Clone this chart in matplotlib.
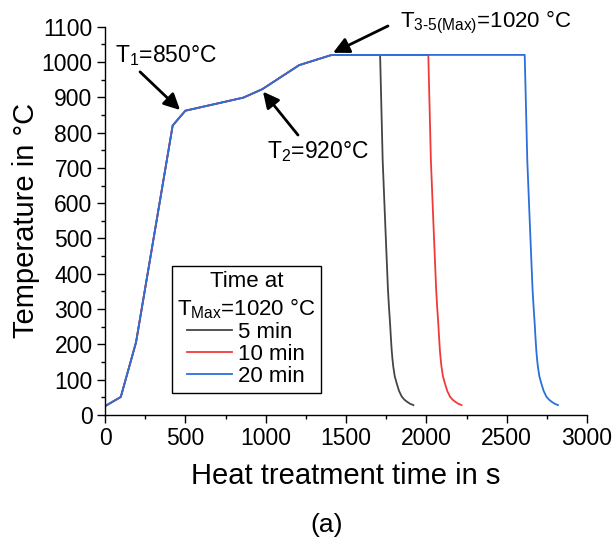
import matplotlib.pyplot as plt
from matplotlib.lines import Line2D
from matplotlib.ticker import MultipleLocator

plt.rcParams['font.family'] = ['Liberation Sans', 'DejaVu Sans']
plt.rcParams['mathtext.fontset'] = 'custom'
plt.rcParams['mathtext.rm'] = 'Liberation Sans'
plt.rcParams['mathtext.it'] = 'Liberation Sans'

# shared heating ramp (s, degC)
heat_t = [0, 98, 193, 421, 500, 861, 979, 1208, 1411]
heat_T = [25, 51, 206, 820, 862, 899, 923, 991, 1020]

# cooling after the hold, read per curve
cool_5_t = [1712, 1728, 1745, 1761, 1768, 1774, 1779, 1784, 1789, 1794, 1803, 1815, 1830, 1847, 1862, 1878, 1898, 1919]
cool_5_T = [1020, 722, 530, 354, 300, 260, 220, 184, 158, 137, 110, 90, 68, 52, 44, 38, 32, 28]
cool_10_t = [2012, 2028, 2045, 2061, 2068, 2074, 2079, 2084, 2089, 2094, 2103, 2115, 2130, 2147, 2162, 2178, 2198, 2219]
cool_10_T = [1020, 722, 530, 354, 300, 260, 220, 184, 158, 137, 110, 90, 68, 52, 44, 38, 32, 28]
cool_20_t = [2612, 2628, 2645, 2661, 2668, 2674, 2679, 2684, 2689, 2694, 2703, 2715, 2730, 2747, 2762, 2778, 2798, 2819]
cool_20_T = [1020, 722, 530, 354, 300, 260, 220, 184, 158, 137, 110, 90, 68, 52, 44, 38, 32, 28]

labels = ['5 min', '10 min', '20 min']
colors = ['#454545', '#f03a3a', '#2a6fdb']

fig = plt.figure(figsize=(6.16, 5.4), dpi=100)
ax = fig.add_axes([0.1705, 0.2315, 0.7825, 0.7191])

curves = [(cool_5_t, cool_5_T), (cool_10_t, cool_10_T), (cool_20_t, cool_20_T)]
for (ct, cT), c in zip(curves, colors):
    ax.plot(heat_t + ct, heat_T + cT, color=c, lw=1.3)

ax.set_xlim(0, 3000)
ax.set_ylim(0, 1100)
ax.xaxis.set_major_locator(MultipleLocator(500))
ax.xaxis.set_minor_locator(MultipleLocator(250))
ax.yaxis.set_major_locator(MultipleLocator(100))
ax.yaxis.set_minor_locator(MultipleLocator(50))
ax.tick_params(which='major', direction='out', length=6, width=1, labelsize=16.5, pad=3)
ax.tick_params(which='minor', direction='out', length=3, width=1)
for s in ['top', 'right']:
    ax.spines[s].set_visible(False)
for s in ['left', 'bottom']:
    ax.spines[s].set_linewidth(1)

ax.set_xlabel('Heat treatment time in s', fontsize=21, labelpad=8)
ax.set_ylabel('Temperature in °C', fontsize=21, labelpad=1)

arrow = dict(arrowstyle='-|>', color='black', lw=2, mutation_scale=24, shrinkA=0, shrinkB=0)
ax.annotate('', xy=(467, 864), xytext=(218, 972), arrowprops=arrow)
ax.text(62, 1017, 'T$_1$=850°C', fontsize=16.5, va='center', ha='left')
ax.annotate('', xy=(983, 916), xytext=(1201, 793), arrowprops=arrow)
ax.text(1010, 745, 'T$_2$=920°C', fontsize=16.5, va='center', ha='left')
ax.annotate('', xy=(1419, 1026), xytext=(1761, 1102), arrowprops=arrow,
            annotation_clip=False)
ax.text(1835, 1112, 'T$_{3\u20105(\\mathrm{Max})}$=1020 °C', fontsize=16, va='center',
        ha='left', clip_on=False)

handles = [Line2D([], [], color=c, lw=1.3) for c in colors]
leg = ax.legend(handles, labels, title='Time at\nT$_{\\mathrm{Max}}$=1020 °C',
                loc='upper left', bbox_to_anchor=(0.138, 0.384), fontsize=16,
                title_fontsize=16, frameon=True, fancybox=False, framealpha=1,
                edgecolor='black', handlelength=2.0, handletextpad=0.3,
                labelspacing=0.05, borderpad=0.25, borderaxespad=0)
leg.get_frame().set_linewidth(1)
leg.get_title().set_multialignment('center')

fig.text(0.531, 0.028, '(a)', fontsize=19, ha='center', va='center')

fig.savefig('out.png', dpi=100)
